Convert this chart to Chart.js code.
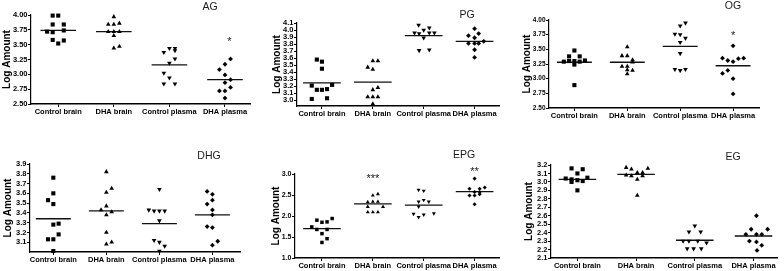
<!DOCTYPE html>
<html><head><meta charset="utf-8">
<script src="https://cdn.jsdelivr.net/npm/chart.js@4"></script>
<style>
html,body{margin:0;padding:0;background:#fff;}
#wrap{position:relative;width:784px;height:271px;overflow:hidden;background:#fff;}
canvas{position:absolute;}
</style></head><body><div id="wrap"></div>
<script>
const categories = ['Control brain', 'DHA brain', 'Control plasma', 'DHA plasma'];

// ---- AG ----
const AG_values = [
  [3.99,3.99,3.84,3.84,3.72,3.71,3.74,3.58,3.57,3.52],
  [3.97,3.84,3.84,3.86,3.72,3.72,3.72,3.65,3.44,3.47],
  [3.44,3.44,3.37,3.40,3.26,3.19,3.02,2.94,2.84,2.84],
  [3.26,3.17,3.08,2.99,2.91,2.86,2.78,2.72,2.72,2.60]];
const AG_jitter = [
  [-0.1,0,-0.1,0.1,-0.2,-0.1,0.1,-0.1,0.1,0],
  [0,-0.1,0,0.1,-0.1,0,0.1,0,0,0.1],
  [0,0.1,-0.1,0.1,0.1,0,-0.1,0,-0.1,0.1],
  [0.1,0,-0.1,0,0.1,0,0.1,-0.1,0,0]];
const AG_means = [3.74,3.72,3.16,2.91];
const AG_ticks = [2.50,2.75,3.00,3.25,3.50,3.75,4.00];
const AG_range = [2.5,4.0];
const AG_stars = [[4.08,3.60,'*']];

// ---- PG ----
const PG_values = [
  [3.58,3.55,3.45,3.21,3.22,3.15,3.15,3.16,3.02,3.03],
  [3.56,3.56,3.47,3.44,3.15,3.18,3.05,3.05,3.05,2.95],
  [4.07,4.00,4.03,3.96,3.95,3.96,3.96,3.89,3.71,3.72],
  [4.02,3.92,3.95,3.89,3.84,3.81,3.81,3.81,3.72,3.61]];
const PG_jitter = [
  [-0.1,0,0,-0.2,0.2,-0.1,0,0.1,-0.2,0.1],
  [0,0.1,-0.1,0,0,0.1,-0.1,0,0.1,0],
  [-0.1,0,0.11,-0.18,-0.09,0.11,0.21,0,-0.09,0.11],
  [0,-0.12,0.08,0,0.18,-0.12,0,0.08,0,0]];
const PG_means = [3.25,3.26,3.92,3.84];
const PG_ticks = [3.0,3.1,3.2,3.3,3.4,3.5,3.6,3.7,3.8,3.9,4.0,4.1];
const PG_range = [2.92,4.1];
const PG_stars = [];

// ---- OG ----
const OG_values = [
  [3.48,3.38,3.38,3.29,3.30,3.30,3.29,3.31,3.24,2.89],
  [3.54,3.39,3.39,3.32,3.21,3.21,3.28,3.15,3.14,3.08],
  [3.95,3.90,3.76,3.75,3.69,3.62,3.43,3.16,3.14,3.16],
  [3.56,3.35,3.31,3.29,3.34,3.35,3.14,3.09,3.00,2.74]];
const OG_jitter = [
  [0,-0.1,0.1,-0.2,-0.1,0,0.1,0.2,0,0],
  [0,-0.1,0,0.1,-0.1,0,0.1,0,0.1,0],
  [0.1,0,-0.1,0,0.1,0,0,-0.1,0,0.1],
  [0,-0.2,-0.1,0,0.1,0.2,-0.1,-0.2,0,0]];
const OG_means = [3.28,3.28,3.55,3.22];
const OG_ticks = [2.50,2.75,3.00,3.25,3.50,3.75,4.00];
const OG_range = [2.5,4.0];
const OG_stars = [[4.0,3.79,'*']];

// ---- DHG ----
const DHG_values = [
  [3.76,3.60,3.53,3.49,3.28,3.29,3.18,3.13,3.13,3.01],
  [3.82,3.61,3.65,3.43,3.47,3.41,3.38,3.20,3.08,3.10],
  [3.64,3.43,3.42,3.42,3.42,3.32,3.12,3.10,3.06,3.01],
  [3.62,3.59,3.49,3.53,3.43,3.38,3.26,3.25,3.07,3.11]];
const DHG_jitter = [
  [0,0,-0.1,0,0,0.1,0.1,-0.1,0,0],
  [0,0,0.1,-0.1,0,0.1,0,0,0,0.1],
  [0,-0.2,-0.1,0,0.1,0,-0.1,0,0.1,0],
  [-0.1,0,-0.1,0,0,0,-0.1,0,0,0.1]];
const DHG_means = [3.34,3.42,3.29,3.38];
const DHG_ticks = [3.1,3.2,3.3,3.4,3.5,3.6,3.7,3.8,3.9];
const DHG_range = [3.0,3.9];
const DHG_stars = [];

// ---- EPG ----
const EPG_values = [
  [1.90,1.85,1.86,1.94,1.74,1.68,1.68,1.58,1.46,1.37],
  [2.49,2.52,2.33,2.34,2.34,2.22,2.09,2.09,2.09,2.22],
  [2.62,2.60,2.38,2.34,2.34,2.22,2.05,1.97,2.03,2.06],
  [2.89,2.65,2.65,2.68,2.57,2.57,2.49,2.49,2.52,2.28]];
const EPG_jitter = [
  [-0.1,0,0.1,0.2,-0.2,-0.1,0.1,0,0.1,0],
  [0,0.1,-0.1,0,0.1,0.2,-0.1,0,0.1,-0.1],
  [-0.1,0,0,-0.1,0.1,-0.1,-0.2,-0.1,0,0.2],
  [0,-0.1,0.1,0.2,0,0.1,-0.1,0,0.1,0]];
const EPG_means = [1.70,2.29,2.26,2.58];
const EPG_ticks = [1.0,1.5,2.0,2.5,3.0];
const EPG_range = [1.0,3.0];
const EPG_stars = [[2.0,2.97,'***'],[4.0,3.14,'**']];

// ---- EG ----
const EG_values = [
  [3.16,3.15,3.10,3.04,3.05,3.02,3.00,3.01,2.90,3.03],
  [3.17,3.15,3.16,3.11,3.11,3.08,3.07,3.07,3.03,2.84],
  [2.48,2.41,2.41,2.30,2.30,2.30,2.28,2.21,2.21,2.21],
  [2.60,2.44,2.44,2.38,2.38,2.38,2.30,2.29,2.25,2.19]];
const EG_jitter = [
  [-0.1,0.09,0,-0.2,0.17,0,-0.1,0.09,0,-0.1],
  [-0.17,-0.08,0.2,0.02,0.11,-0.17,-0.08,0.11,0.02,0.02],
  [0,-0.1,0.1,-0.2,-0.1,0.05,0.2,-0.13,-0.02,0.11],
  [0.05,-0.04,0.24,-0.13,0.05,0.14,-0.07,0.05,0.14,0.06]];
const EG_means = [3.03,3.09,2.31,2.36];
const EG_ticks = [2.1,2.2,2.3,2.4,2.5,2.6,2.7,2.8,2.9,3.0,3.1,3.2];
const EG_range = [2.1,3.2];
const EG_stars = [];

// ---- marker styling per group ----
const markerStyles = ['rect','triangle','triangle','rectRot'];
const markerRot = [0,0,180,0];
const markerSize = [2.9,2.7,2.7,2.4];

const FONT = '"Liberation Sans", Arial, Helvetica, sans-serif';
Chart.defaults.font.family = FONT;
Chart.defaults.color = '#000';

const textPlugin = {
  id: 'panelText',
  afterDraw(chart, args, opts) {
    const ctx = chart.ctx;
    ctx.save();
    ctx.fillStyle = '#1a1a1a';
    ctx.textAlign = 'center';
    ctx.textBaseline = 'middle';
    ctx.font = '10.5px ' + FONT;
    ctx.fillText(opts.title, opts.tx, opts.ty);
    const xs = chart.scales.x, ys = chart.scales.y;
    ctx.textBaseline = 'alphabetic';
    ctx.font = '11px ' + FONT;
    (opts.stars || []).forEach(s => {
      ctx.fillText(s[2], xs.getPixelForValue(s[0]), ys.getPixelForValue(s[1]) + 11 * 0.58);
    });
    ctx.restore();
  }
};

const panels = [
  {title:'AG', values:AG_values, jitter:AG_jitter, means:AG_means, ticks:AG_ticks, range:AG_range, stars:AG_stars,
   box:[0,0,262,135], axisX:31, top:15, bottom:104, right:250, xmin:0.51, xmax:4.45, dec:2, yFont:7.5, titleCX:7.5, tpos:[210,7], half:0.32, ms:1},
  {title:'PG', values:PG_values, jitter:PG_jitter, means:PG_means, ticks:PG_ticks, range:PG_range, stars:PG_stars,
   box:[262,0,260,135], axisX:35, top:23, bottom:106, right:237, xmin:0.51, xmax:4.48, dec:1, yFont:7.5, titleCX:15, tpos:[205,15], half:0.37, ms:1},
  {title:'OG', values:OG_values, jitter:OG_jitter, means:OG_means, ticks:OG_ticks, range:OG_range, stars:OG_stars,
   box:[522,0,262,135], axisX:27, top:20, bottom:108, right:237, xmin:0.52, xmax:4.49, dec:2, yFont:6.5, titleCX:5.5, tpos:[211,6], half:0.33, ms:1},
  {title:'DHG', values:DHG_values, jitter:DHG_jitter, means:DHG_means, ticks:DHG_ticks, range:DHG_range, stars:DHG_stars,
   box:[0,135,262,136], axisX:30, top:29, bottom:117, right:240, xmin:0.56, xmax:4.52, dec:1, yFont:7.5, titleCX:8, tpos:[209,21], half:0.33, ms:1},
  {title:'EPG', values:EPG_values, jitter:EPG_jitter, means:EPG_means, ticks:EPG_ticks, range:EPG_range, stars:EPG_stars,
   box:[262,135,260,136], axisX:33, top:39, bottom:123, right:237, xmin:0.47, xmax:4.48, dec:1, yFont:7, titleCX:14, tpos:[202,20], half:0.37, ms:0.85},
  {title:'EG', values:EG_values, jitter:EG_jitter, means:EG_means, ticks:EG_ticks, range:EG_range, stars:EG_stars,
   box:[522,135,262,136], axisX:29, top:30, bottom:123, right:255, xmin:0.55, xmax:4.40, dec:1, yFont:7.5, titleCX:7, tpos:[211,22], half:0.32, ms:1}
];

const wrap = document.getElementById('wrap');

function makePanel(p) {
  const [L, T, W, H] = p.box;
  const c = document.createElement('canvas');
  c.width = W; c.height = H;
  c.style.left = L + 'px'; c.style.top = T + 'px';
  c.style.width = W + 'px'; c.style.height = H + 'px';
  wrap.appendChild(c);
  const datasets = [];
  p.values.forEach((vals, g) => {
    datasets.push({
      data: vals.map((v, i) => ({x: g + 1 + p.jitter[g][i], y: v})),
      pointStyle: markerStyles[g], rotation: markerRot[g],
      pointRadius: markerSize[g] * p.ms, backgroundColor: '#000', borderColor: '#000',
      borderWidth: 0, clip: false
    });
  });
  p.means.forEach((m, g) => {
    datasets.push({
      data: [{x: g + 1 - p.half, y: m}, {x: g + 1 + p.half, y: m}],
      showLine: true, pointRadius: 0, borderColor: '#111', borderWidth: 1.3, clip: false
    });
  });
  new Chart(c, {
    type: 'scatter',
    data: {datasets},
    options: {
      responsive: false, animation: false, events: [], devicePixelRatio: 1,
      layout: {padding: {left: 0, top: p.top, right: W - p.right, bottom: 0}},
      plugins: {
        legend: {display: false}, tooltip: {enabled: false},
        panelText: {title: p.title, tx: p.tpos[0], ty: p.tpos[1], stars: p.stars}
      },
      scales: {
        x: {
          type: 'linear', position: 'bottom', min: p.xmin, max: p.xmax,
          afterBuildTicks: s => { s.ticks = [1,2,3,4].map(v => ({value: v})); },
          afterFit: s => { s.height = H - p.bottom; },
          ticks: {callback: v => categories[Math.round(v) - 1], autoSkip: false, maxRotation: 0, minRotation: 0,
                  font: {size: 7.5, weight: 'bold'}, color: '#000', padding: 0},
          grid: {display: true, drawOnChartArea: false, drawTicks: true, tickLength: 3, color: '#000', lineWidth: 1},
          border: {display: true, color: '#000', width: 1.5}
        },
        y: {
          type: 'linear', min: p.range[0], max: p.range[1],
          afterBuildTicks: s => { s.ticks = p.ticks.map(v => ({value: v})); },
          afterFit: s => { s.width = p.axisX; },
          ticks: {callback: v => Number(v).toFixed(p.dec), autoSkip: false,
                  font: {size: p.yFont, weight: 'bold'}, color: '#000', padding: 0.5},
          grid: {display: true, drawOnChartArea: false, drawTicks: true, tickLength: 3, color: '#000', lineWidth: 1},
          border: {display: true, color: '#000', width: 1.2},
          title: {display: true, text: 'Log Amount', font: {size: 10, weight: 'bold'}, color: '#000',
                  padding: {top: p.titleCX - 6, bottom: 0}}
        }
      }
    },
    plugins: [textPlugin]
  });
}

panels.forEach(makePanel);
</script></body></html>
